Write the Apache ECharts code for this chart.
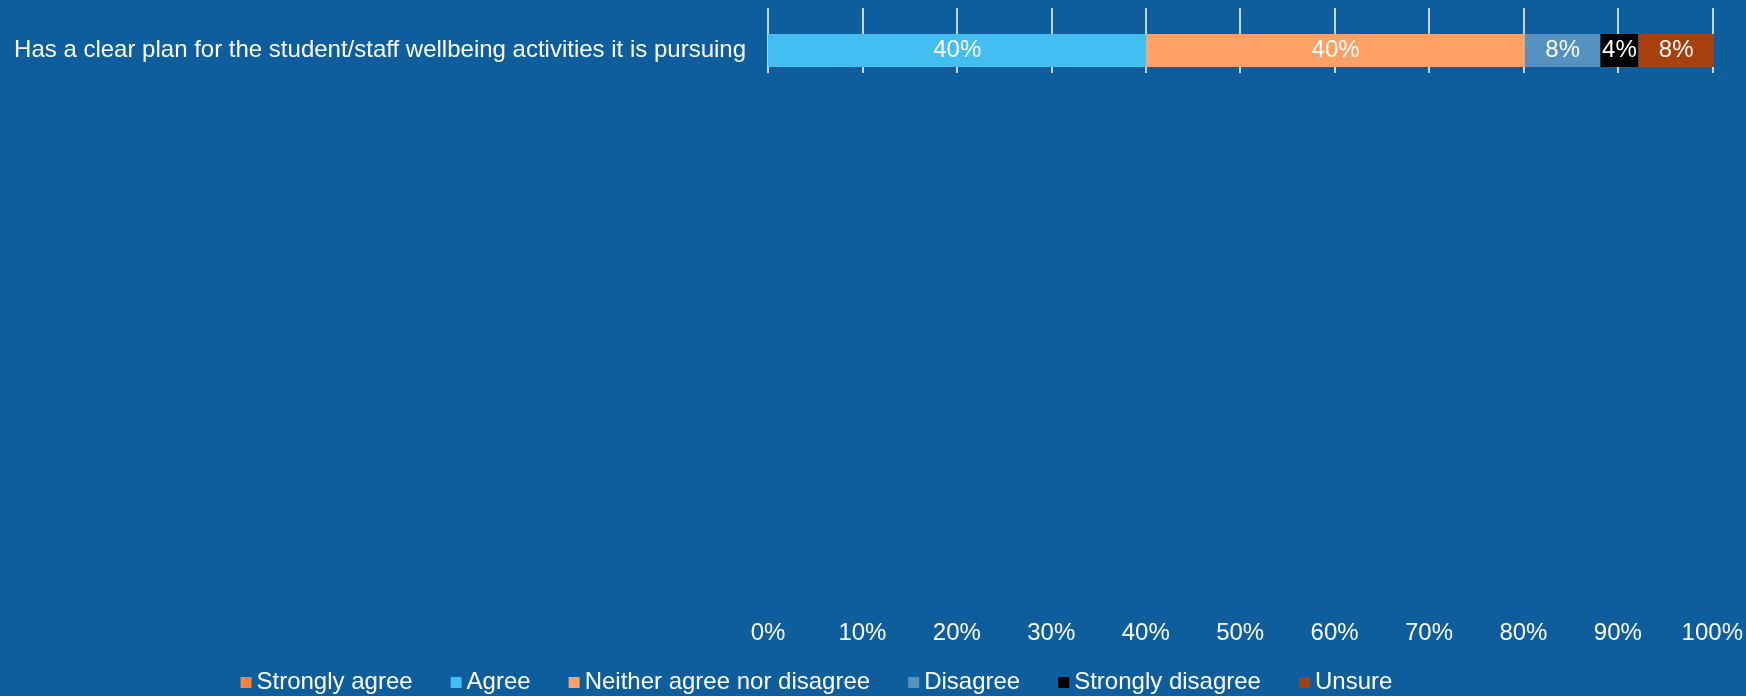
<!DOCTYPE html>
<html>
<head>
<meta charset="utf-8">
<script src="https://cdn.jsdelivr.net/npm/echarts@6/dist/echarts.min.js"></script>
<style>
  html, body { margin: 0; padding: 0; background: #0E5E9E; }
  #chart { width: 1746px; height: 696px; }
</style>
</head>
<body>
<div id="chart"></div>
<script>
// Survey statement and response shares (percent of respondents)
const categories = ['Has a clear plan for the student/staff wellbeing activities it is pursuing'];
const responseNames = ['Strongly agree', 'Agree', 'Neither agree nor disagree', 'Disagree', 'Strongly disagree', 'Unsure'];
const stronglyAgree = [0];
const agree = [40];
const neither = [40];
const disagree = [8];
const stronglyDisagree = [4];
const unsure = [8];
const xTicks = [0, 10, 20, 30, 40, 50, 60, 70, 80, 90, 100];

const seriesValues = [stronglyAgree, agree, neither, disagree, stronglyDisagree, unsure];
const colors = ['#F5843F', '#42BEF0', '#FFA066', '#5591C1', '#000000', '#A8400E'];

const FONT = '"Liberation Sans", Arial, sans-serif';
const FS = 24;

const xMin = xTicks[0];
const xMax = xTicks[xTicks.length - 1];
const xStep = xTicks[1] - xTicks[0];

const chart = echarts.init(document.getElementById('chart'));
chart.setOption({
  backgroundColor: '#0E5E9E',
  animation: false,
  textStyle: { fontFamily: FONT, color: '#ffffff' },
  // grid 0: gridlines and percentage scale; grid 1: the bar row itself
  grid: [
    { left: 768, right: 32, top: 8, height: 65, containLabel: false },
    { left: 768, right: 32, top: 18, height: 65, containLabel: false }
  ],
  legend: {
    data: responseNames,
    left: 235.5,
    top: 665.5,
    icon: 'rect',
    itemWidth: 11,
    itemHeight: 11,
    itemGap: 38,
    textStyle: { color: '#ffffff', fontSize: FS, fontFamily: FONT }
  },
  xAxis: [
    {
      type: 'value',
      gridIndex: 0,
      min: xMin,
      max: xMax,
      interval: xStep,
      axisLine: { show: false },
      axisTick: { show: false },
      splitLine: { show: true, lineStyle: { color: '#ffffff', width: 1.5 } },
      axisLabel: {
        color: '#ffffff',
        fontSize: FS,
        fontFamily: FONT,
        margin: 548,
        formatter: v => v + '%'
      }
    },
    {
      type: 'value',
      gridIndex: 1,
      min: xMin,
      max: xMax,
      interval: xStep,
      show: false
    }
  ],
  yAxis: [
    {
      type: 'category',
      gridIndex: 0,
      data: categories,
      show: false
    },
    {
      type: 'category',
      gridIndex: 1,
      data: categories,
      inverse: true,
      axisLine: { show: false },
      axisTick: { show: false },
      splitLine: { show: false },
      axisLabel: { color: '#ffffff', fontSize: FS, fontFamily: FONT, margin: 22 }
    }
  ],
  series: responseNames.map((name, i) => ({
    name: name,
    type: 'bar',
    stack: 'total',
    xAxisIndex: 1,
    yAxisIndex: 1,
    barWidth: 33,
    itemStyle: { color: colors[i] },
    label: {
      show: true,
      position: 'inside',
      color: '#ffffff',
      fontSize: FS,
      fontFamily: FONT,
      formatter: p => (p.value > 0 ? p.value + '%' : '')
    },
    data: seriesValues[i]
  }))
});
</script>
</body>
</html>
